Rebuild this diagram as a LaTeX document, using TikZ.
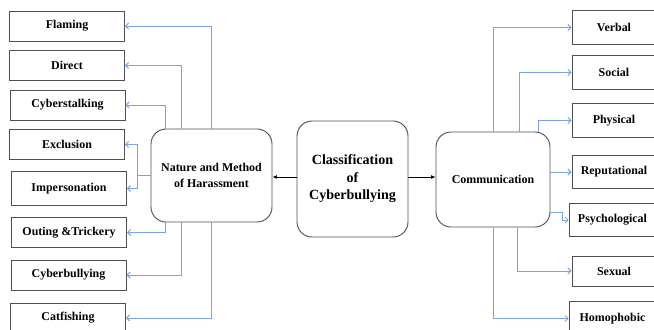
\documentclass[tikz,border=0pt]{standalone}
\usepackage{fontspec}
\setmainfont{Liberation Serif}
\usepackage{xcolor}
\definecolor{LinkBlue}{HTML}{7AA3E6}
\definecolor{EdgeGray}{HTML}{505050}
\usetikzlibrary{arrows.meta,positioning,calc}

\begin{document}
\begin{tikzpicture}[x=0.03cm, y=-0.03cm, every node/.style={font=\fontsize{10.2}{13.5}\selectfont\bfseries}]
\tikzset{leaf/.style={draw=EdgeGray, line width=0.8pt, minimum width=3.45cm, minimum height=0.9cm, align=center, inner sep=1pt}}
\tikzset{hub/.style={draw=EdgeGray, line width=0.8pt, rounded corners=0.45cm, align=center}}
\tikzset{link/.style={draw=LinkBlue, line width=0.85pt, -{Straight Barb[length=0.9mm, width=1.8mm]}}}
\tikzset{arrow/.style={-{Latex[length=1.3mm, width=1.1mm]}, line width=0.5pt}}
\useasboundingbox (0,0) rectangle (654,329);
\node[hub, minimum width=3.33cm, minimum height=3.48cm, font=\fontsize{12}{15}\selectfont\bfseries] (class) at (352.5,179) {Classification\\of\\Cyberbullying};
\node[hub, minimum width=3.63cm, minimum height=2.79cm] (nature) at (211.5,175.5) {Nature and Method\\of Harassment};
\node[hub, minimum width=3.42cm, minimum height=2.85cm] (comm) at (493,179.5) {Communication};
\node[leaf] (flaming) at (67,26) {Flaming};
\node[leaf] (direct) at (67,65.5) {Direct};
\node[leaf] (stalking) at (67.5,105) {Cyberstalking};
\node[leaf] (exclusion) at (67,144.5) {Exclusion};
\node[leaf, minimum height=1cm] (imperson) at (69,188.5) {Impersonation};
\node[leaf] (outing) at (69,232.5) {Outing \&Trickery};
\node[leaf] (bullying) at (68.5,275) {Cyberbullying};
\node[leaf] (catfish) at (68,318) {Catfishing};
\node[leaf, minimum width=2.52cm, minimum height=1cm] (verbal) at (614,27.5) {Verbal};
\node[leaf, minimum width=2.52cm, minimum height=1cm] (social) at (614,72.5) {Social};
\node[leaf, minimum width=2.52cm, minimum height=1cm] (physical) at (614,120.5) {Physical};
\node[leaf, minimum width=2.52cm, minimum height=1cm] (reput) at (614,172) {Reputational};
\node[leaf, minimum width=2.6cm, minimum height=1cm] (psych) at (612.5,220) {Psychological};
\node[leaf, minimum width=2.52cm, minimum height=0.9cm] (sexual) at (614,271) {Sexual};
\node[leaf, minimum width=2.6cm, minimum height=1cm] (homophobic) at (612.5,318.5) {Homophobic};
\draw[arrow] ([yshift=0.06cm]class.west) -- ([yshift=0.06cm]nature.east |- class.west);
\draw[arrow] ([yshift=0.06cm]class.east) -- ([yshift=0.06cm]comm.west |- class.east);
\draw[link] (nature.north) |- (flaming.east);
\draw[link] ([xshift=-0.9cm]nature.north) |- (direct.east);
\draw[link] ([xshift=-1.38cm]nature.north) |- (stalking.east);
\draw[link] (nature.west) -- ++(-0.39cm,0) coordinate (split) |- (exclusion.east);
\draw[link] (split) |- (imperson.east);
\draw[link] ([xshift=-1.38cm]nature.south) |- (outing.east);
\draw[link] ([xshift=-0.9cm]nature.south) |- (bullying.east);
\draw[link] (nature.south) |- (catfish.east);
\draw[link] (comm.north) |- (verbal.west);
\draw[link] ([xshift=0.78cm]comm.north) |- (social.west);
\draw[link] ([xshift=1.35cm]comm.north) |- (physical.west);
\draw[link] (comm.east |- reput.west) -- (reput.west);
\draw[link] ([yshift=-0.98cm]comm.east) -- ++(0.36cm,0) |- (psych.west);
\draw[link] ([xshift=0.72cm]comm.south) |- (sexual.west);
\draw[link] (comm.south) |- (homophobic.west);
\end{tikzpicture}
\end{document}
